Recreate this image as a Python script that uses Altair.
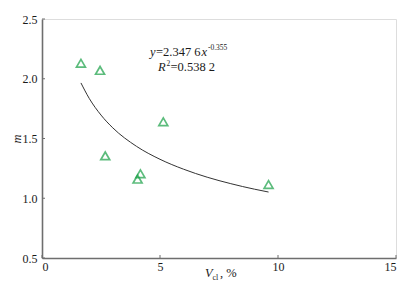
import altair as alt
import pandas as pd

# observed points
vcl = [1.65, 2.46, 2.68, 5.14, 4.17, 4.05, 9.6]
m_vals = [2.13, 2.07, 1.355, 1.64, 1.205, 1.16, 1.115]

# fitted curve
curve_x = [1.65, 2.0, 2.5, 3.0, 4.0, 5.0, 6.0, 7.0, 8.0, 9.0, 9.6]
curve_y = [1.965, 1.836, 1.696, 1.589, 1.435, 1.326, 1.243, 1.176, 1.122, 1.076, 1.052]

x_ticks = [0, 5, 10, 15]
y_ticks = [0.5, 1.0, 1.5, 2.0, 2.5]

pts = pd.DataFrame({"x": vcl, "y": m_vals})
cur = pd.DataFrame({"x": curve_x, "y": curve_y})
xt = pd.DataFrame({"x": x_ticks})
yt = pd.DataFrame({"y": y_ticks})

FONT = "'Liberation Serif', 'Times New Roman', 'DejaVu Serif', serif"
W, H = 354, 239
AXC = "#6e6e6e"
TXT = "#1a1a1a"

xs = alt.Scale(domain=[0, 15], nice=False)
ys = alt.Scale(domain=[0.5, 2.5], nice=False, zero=False)

xax = alt.Axis(values=x_ticks, title=None, ticks=False, labelFont=FONT, labelFontSize=12,
               labelColor=TXT, domainColor=AXC, domainWidth=1.6,
               labelPadding=3, grid=False, format="d")
yax = alt.Axis(values=y_ticks, title=None, ticks=False, labelFont=FONT, labelFontSize=12,
               labelColor=TXT, domainColor=AXC, domainWidth=1.6,
               labelPadding=5, grid=False, format=".1f")

line = alt.Chart(cur).mark_line(color="#333", strokeWidth=1, interpolate="monotone").encode(
    x=alt.X("x:Q", scale=xs, axis=xax),
    y=alt.Y("y:Q", scale=ys, axis=yax),
)

xtick = alt.Chart(xt).mark_rule(color=AXC, strokeWidth=1).encode(
    x=alt.X("x:Q", scale=xs), y=alt.value(H), y2=alt.value(H - 3))
ytick = alt.Chart(yt).mark_rule(color=AXC, strokeWidth=1).encode(
    y=alt.Y("y:Q", scale=ys), x=alt.value(0), x2=alt.value(3))

points = alt.Chart(pts).mark_point(shape="triangle-up", filled=False, color="#18a046",
                                   strokeWidth=1.7, size=80).encode(
    x=alt.X("x:Q", scale=xs),
    y=alt.Y("y:Q", scale=ys),
)

def txt(s, px, py, size=12.5, style="normal", align="left", angle=0, baseline="alphabetic"):
    return alt.Chart(pd.DataFrame({"t": [s]})).mark_text(
        font=FONT, fontSize=size, fontStyle=style, align=align, baseline=baseline,
        color=TXT, angle=angle
    ).encode(x=alt.value(px), y=alt.value(py), text="t:N")

ann = [
    txt("y", 108, 37, style="italic"),
    txt("=2.347 6", 114, 37),
    txt("x", 159.5, 37, style="italic"),
    txt("-0.355", 166, 31, size=7.5),
    txt("R", 116, 52, style="italic"),
    txt("2", 124.5, 47, size=7.5),
    txt("=0.538 2", 128.5, 52),
    txt("V", 163, 258, style="italic"),
    txt("cl", 170.5, 261, size=8),
    txt(", %", 178, 258),
    txt("m", -25, 120, style="italic", angle=270, align="center", baseline="middle"),
]

chart = alt.layer(line, xtick, ytick, points, *ann).properties(
    width=W, height=H,
    autosize=alt.AutoSizeParams(type="none"),
    padding={"left": 34, "top": 11, "right": 3, "bottom": 29},
).configure_view(stroke=None).configure(background="white")

chart.save("out.html", embed_options={"renderer": "svg", "actions": False})
